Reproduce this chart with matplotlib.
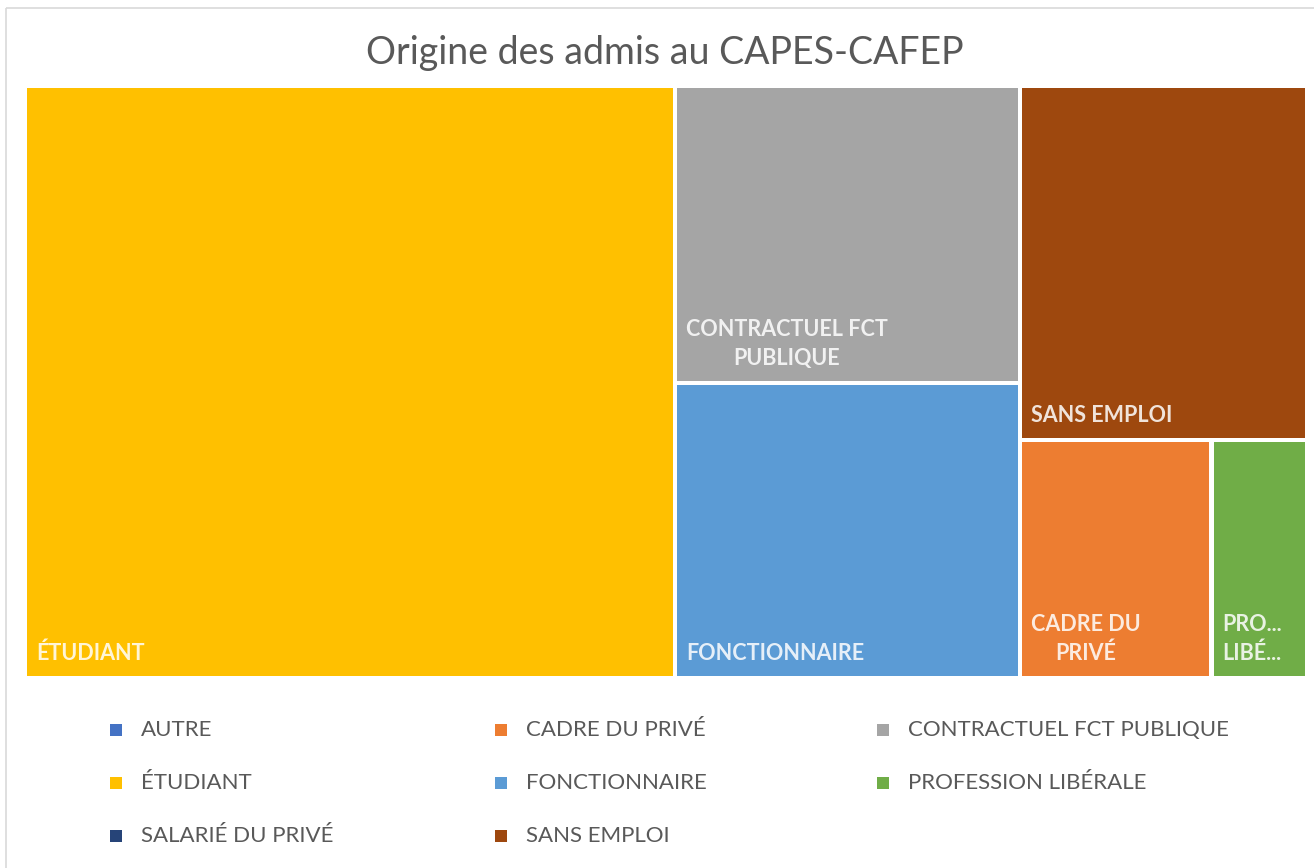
import matplotlib.pyplot as plt
from matplotlib.patches import Rectangle

# parts of admitted candidates (%), largest first
categories = ["ÉTUDIANT", "CONTRACTUEL FCT PUBLIQUE", "FONCTIONNAIRE",
              "SANS EMPLOI", "CADRE DU PRIVÉ", "PROFESSION LIBÉRALE"]
values = [50.7, 13.5, 13.4, 13.4, 6.0, 3.0]
box_labels = ["ÉTUDIANT", "CONTRACTUEL FCT\nPUBLIQUE", "FONCTIONNAIRE",
              "SANS EMPLOI", "CADRE DU\nPRIVÉ", "PRO...\nLIBÉ..."]

legend_names = ["AUTRE", "CADRE DU PRIVÉ", "CONTRACTUEL FCT PUBLIQUE",
                "ÉTUDIANT", "FONCTIONNAIRE", "PROFESSION LIBÉRALE",
                "SALARIÉ DU PRIVÉ", "SANS EMPLOI"]
colors = {"AUTRE": "#4472C4", "CADRE DU PRIVÉ": "#ED7D31",
          "CONTRACTUEL FCT PUBLIQUE": "#A5A5A5", "ÉTUDIANT": "#FFC000",
          "FONCTIONNAIRE": "#5B9BD5", "PROFESSION LIBÉRALE": "#70AD47",
          "SALARIÉ DU PRIVÉ": "#264478", "SANS EMPLOI": "#9E480E"}

plt.rcParams['font.family'] = ['Lato', 'DejaVu Sans']


def worst(row, side):
    s = sum(row)
    return max(max(side * side * r / (s * s), s * s / (side * side * r)) for r in row)


def squarify(areas, x, y, w, h):
    rects = []
    areas = list(areas)
    while areas:
        side = min(w, h)
        row = [areas[0]]
        i = 1
        while i < len(areas) and worst(row + [areas[i]], side) <= worst(row, side):
            row.append(areas[i])
            i += 1
        areas = areas[i:]
        s = sum(row)
        if w >= h:
            cw = s / h
            cy = y
            for a in row:
                rh = a / cw
                rects.append((x, cy, cw, rh))
                cy += rh
            x += cw
            w -= cw
        else:
            rh = s / w
            cx = x
            for a in row:
                cw = a / rh
                rects.append((cx, y, cw, rh))
                cx += cw
            y += rh
            h -= rh
    return rects


fig = plt.figure(figsize=(13.14, 8.68), dpi=100)
ax = fig.add_axes([0, 0, 1, 1])
ax.set_xlim(0, 1314)
ax.set_ylim(868, 0)
ax.axis("off")

# chart frame
ax.add_patch(Rectangle((6, 8), 1320, 880, fill=False, ec="#D9D9D9", lw=1.2))

ax.text(665, 53, "Origine des admis au CAPES-CAFEP", ha="center", va="center",
        fontsize=27, color="#595959")

X0, Y0, W, H = 25, 86, 1282, 592
total = sum(values)
areas = [v / total * W * H for v in values]
gap = 2.3
for (x, y, w, h), name, lab in zip(squarify(areas, X0, Y0, W, H), categories, box_labels):
    ax.add_patch(Rectangle((x + gap, y + gap), w - 2 * gap, h - 2 * gap,
                           fc=colors[name], ec="none"))
    ax.text(x + 11, y + h - 14, lab, ha="left", va="bottom", multialignment="center",
            fontsize=15.5, fontweight="bold", color="white", alpha=0.85,
            linespacing=1.45)

# legend, filled row by row
col_x = [116, 501, 883]
row_y = [730, 783, 836]
for i, name in enumerate(legend_names):
    lx = col_x[i % 3]
    ly = row_y[i // 3]
    ax.add_patch(Rectangle((lx - 6, ly - 6), 12, 12, fc=colors[name], ec="none"))
    ax.text(lx + 25, ly, name, ha="left", va="center", fontsize=16,
            color="#595959")

fig.savefig("out.png", dpi=100)
